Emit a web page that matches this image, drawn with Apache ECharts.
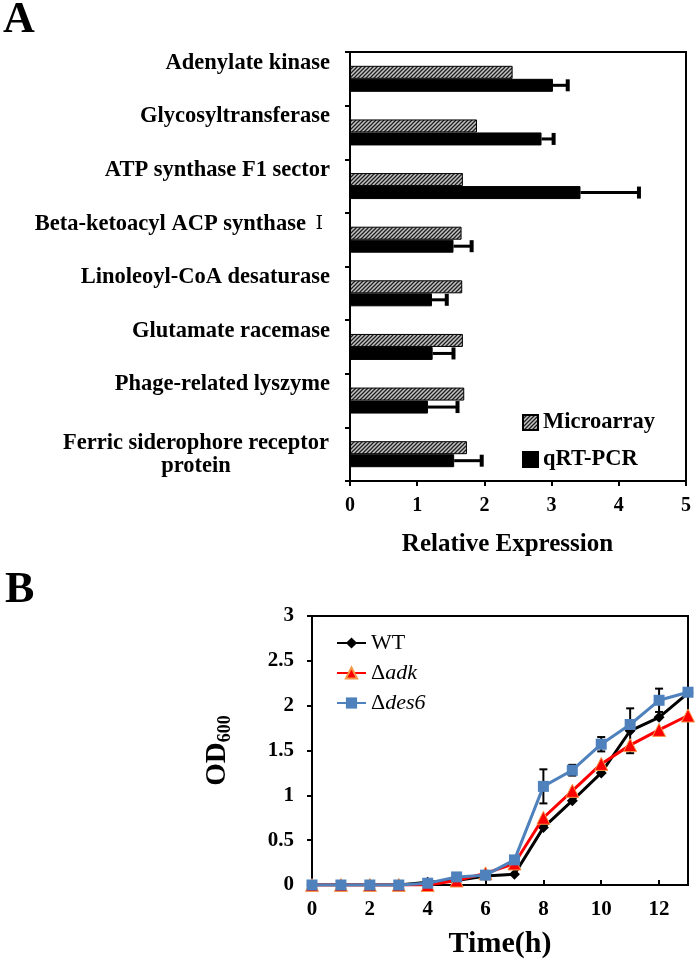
<!DOCTYPE html>
<html>
<head>
<meta charset="utf-8">
<script src="https://cdn.jsdelivr.net/npm/echarts@6/dist/echarts.min.js"></script>
<style>html,body{margin:0;padding:0;background:#fff;}#main{width:700px;height:965px;}</style>
</head>
<body>
<div id="main"></div>
<script>
// ---------- Panel A data ----------
const categories = [
  'Adenylate kinase',
  'Glycosyltransferase',
  'ATP synthase F1 sector',
  'Beta-ketoacyl ACP synthase Ⅰ',
  'Linoleoyl-CoA desaturase',
  'Glutamate racemase',
  'Phage-related lyszyme',
  'Ferric siderophore receptor\nprotein'
];
const microarray = [2.42, 1.89, 1.68, 1.66, 1.67, 1.68, 1.70, 1.74];
const qrtpcr     = [3.02, 2.85, 3.43, 1.54, 1.22, 1.23, 1.16, 1.55];
const qrtpcrErr  = [0.22, 0.18, 0.87, 0.27, 0.22, 0.31, 0.44, 0.41];
const xTicksA = [0, 1, 2, 3, 4, 5];

// ---------- Panel B data ----------
const hours  = [0, 1, 2, 3, 4, 5, 6, 7, 8, 9, 10, 11, 12, 13];
const wt     = [0, 0, 0, 0, 0.03, 0.05, 0.10, 0.12, 0.64, 0.94, 1.25, 1.72, 1.87, 2.14];
const adk    = [0, 0, 0, 0, 0.00, 0.05, 0.13, 0.24, 0.75, 1.05, 1.35, 1.56, 1.73, 1.89];
const des6   = [0, 0, 0, 0, 0.02, 0.09, 0.11, 0.28, 1.10, 1.28, 1.57, 1.79, 2.06, 2.15];
const wtErr  = [0, 0, 0, 0, 0, 0, 0, 0, 0, 0, 0, 0.25, 0, 0];
const adkErr = [0, 0, 0, 0, 0, 0, 0, 0, 0, 0, 0, 0, 0, 0];
const des6Err= [0, 0, 0, 0, 0, 0, 0, 0, 0.19, 0.06, 0.08, 0, 0.13, 0];

const FONT = '"Liberation Serif", "Times New Roman", serif';

function hatch() {
  const c = document.createElement('canvas');
  c.width = 4; c.height = 4;
  const g = c.getContext('2d');
  g.fillStyle = '#c4c4c4'; g.fillRect(0, 0, 4, 4);
  g.strokeStyle = '#1e1e1e'; g.lineWidth = 1.3;
  g.beginPath();
  g.moveTo(0, 4); g.lineTo(4, 0);
  g.moveTo(-1, 1); g.lineTo(1, -1);
  g.moveTo(3, 5); g.lineTo(5, 3);
  g.stroke();
  return c;
}
const hatchColor = { image: hatch(), repeat: 'repeat' };

const BAR_W = 13;

const chart = echarts.init(document.getElementById('main'), null, { renderer: 'canvas' });

const errA = qrtpcr.map((v, i) => [v, i, qrtpcrErr[i]]);
function errPts(vals, errs) {
  const out = [];
  vals.forEach((v, i) => { if (errs[i] > 0) out.push([hours[i], v, errs[i]]); });
  return out;
}
const errB = errPts(wt, wtErr).concat(errPts(adk, adkErr), errPts(des6, des6Err));

function catLabel(v) {
  if (v.indexOf('\n') >= 0) return v.split('\n').map(s => '{c|' + s + '}').join('\n');
  const k = v.indexOf('Ⅰ');
  if (k >= 0) return '{s|' + v.slice(0, k) + '}{r|Ⅰ}';
  return '{s|' + v + '}';
}

const option = {
  backgroundColor: '#fff',
  animation: false,
  graphic: [
    { type: 'text', left: 3, top: -1, style: { text: 'A', font: 'bold 44px ' + FONT, fill: '#000' } },
    { type: 'text', left: 5, top: 569, style: { text: 'B', font: 'bold 44px ' + FONT, fill: '#000' } }
  ],
  grid: [
    { left: 350, top: 52, width: 336, height: 429, show: true, borderColor: '#000', borderWidth: 2, backgroundColor: 'transparent' },
    { left: 312, top: 616, width: 376, height: 269, show: true, borderColor: '#000', borderWidth: 2, backgroundColor: 'transparent' }
  ],
  legend: [
    {
      data: ['Microarray', 'qRT-PCR'],
      orient: 'vertical', left: 517, top: 406,
      itemWidth: 15, itemHeight: 15, itemGap: 14,
      icon: 'rect',
      textStyle: { fontFamily: FONT, fontWeight: 'bold', fontSize: 22.5, color: '#000' }
    },
    {
      data: ['WT', 'Δadk', 'Δdes6'],
      orient: 'vertical', left: 331, top: 627,
      itemWidth: 29, itemHeight: 14, itemGap: 8,
      formatter: n => n.charAt(0) === 'Δ' ? 'Δ{i|' + n.slice(1) + '}' : n,
      textStyle: {
        fontFamily: FONT, fontSize: 22, color: '#000',
        rich: { i: { fontFamily: FONT, fontSize: 22, fontStyle: 'italic', color: '#000' } }
      }
    }
  ],
  xAxis: [
    {
      gridIndex: 0, type: 'value', min: xTicksA[0], max: xTicksA[xTicksA.length - 1], interval: 1,
      axisLine: { show: true, lineStyle: { color: '#000', width: 2 } },
      axisTick: { show: true, length: 5, lineStyle: { color: '#000', width: 2 } },
      splitLine: { show: false },
      axisLabel: { margin: 15, fontFamily: FONT, fontWeight: 'bold', fontSize: 20, color: '#000' },
      name: 'Relative Expression', nameLocation: 'middle', nameGap: 51,
      nameTextStyle: { fontFamily: FONT, fontWeight: 'bold', fontSize: 25, color: '#000', padding: [0, 21, 0, 0] }
    },
    {
      gridIndex: 1, type: 'value', min: 0, max: 13, interval: 2,
      axisLine: { show: true, lineStyle: { color: '#000', width: 2 } },
      axisTick: { show: true, inside: true, length: 5, lineStyle: { color: '#000', width: 2 } },
      splitLine: { show: false },
      axisLabel: { margin: 14, showMaxLabel: false, fontFamily: FONT, fontWeight: 'bold', fontSize: 21, color: '#000' },
      name: 'Time(h)', nameLocation: 'middle', nameGap: 44,
      nameTextStyle: { fontFamily: FONT, fontWeight: 'bold', fontSize: 30, color: '#000' }
    }
  ],
  yAxis: [
    {
      gridIndex: 0, type: 'category', data: categories, inverse: true,
      axisLine: { show: true, lineStyle: { color: '#000', width: 2 } },
      axisTick: { show: true, length: 5, lineStyle: { color: '#000', width: 2 } },
      splitLine: { show: false },
      axisLabel: {
        margin: 20, color: '#000',
        formatter: catLabel,
        rich: {
          s: { fontFamily: FONT, fontWeight: 'bold', fontSize: 22.5, color: '#000', padding: [0, 0, 32, 0] },
          r: { fontFamily: '"DejaVu Serif", ' + FONT, fontWeight: 'normal', fontSize: 19, color: '#000', padding: [0, 7, 32, 4] },
          c: { fontFamily: FONT, fontWeight: 'bold', fontSize: 22.5, color: '#000', width: 268, align: 'center', lineHeight: 23 }
        }
      }
    },
    {
      gridIndex: 1, type: 'value', min: 0, max: 3, interval: 0.5,
      axisLine: { show: true, lineStyle: { color: '#000', width: 2 } },
      axisTick: { show: true, length: 5, lineStyle: { color: '#000', width: 2 } },
      splitLine: { show: false },
      axisLabel: { margin: 18, fontFamily: FONT, fontWeight: 'bold', fontSize: 21, color: '#000' },
      name: 'OD{sub|600}', nameLocation: 'middle', nameGap: 78, nameRotate: 90,
      nameTextStyle: {
        fontFamily: FONT, fontWeight: 'bold', fontSize: 29, color: '#000',
        rich: { sub: { fontFamily: FONT, fontWeight: 'bold', fontSize: 18, color: '#000', verticalAlign: 'bottom', padding: [14, 0, 0, 0] } }
      }
    }
  ],
  series: [
    {
      name: 'Microarray', type: 'bar', xAxisIndex: 0, yAxisIndex: 0,
      data: microarray, barWidth: BAR_W, barGap: '0%',
      itemStyle: { color: hatchColor, borderColor: '#000', borderWidth: 1 }
    },
    {
      name: 'qRT-PCR', type: 'bar', xAxisIndex: 0, yAxisIndex: 0,
      data: qrtpcr, barWidth: BAR_W, barGap: '0%',
      itemStyle: { color: '#000', borderColor: '#000', borderWidth: 1 }
    },
    {
      name: 'errA', type: 'custom', xAxisIndex: 0, yAxisIndex: 0,
      data: errA, encode: { x: 0, y: 1 }, z: 5,
      renderItem: (params, api) => {
        const v = api.value(0), idx = api.value(1), e = api.value(2);
        const s = api.coord([v, idx]);
        const t = api.coord([v + e, idx]);
        const y = s[1] + BAR_W / 2;
        return {
          type: 'group', children: [
            { type: 'line', shape: { x1: s[0], y1: y, x2: t[0], y2: y }, style: { stroke: '#000', lineWidth: 3 } },
            { type: 'rect', shape: { x: t[0] - 2, y: y - 6, width: 4, height: 12 }, style: { fill: '#000' } }
          ]
        };
      }
    },
    {
      name: 'errB', type: 'custom', xAxisIndex: 1, yAxisIndex: 1,
      data: errB, encode: { x: 0, y: 1 }, z: 1,
      renderItem: (params, api) => {
        const x = api.value(0), v = api.value(1), e = api.value(2);
        const lo = api.coord([x, v - e]);
        const hi = api.coord([x, v + e]);
        const st = { stroke: '#000', lineWidth: 2 };
        return {
          type: 'group', children: [
            { type: 'line', shape: { x1: lo[0], y1: lo[1], x2: hi[0], y2: hi[1] }, style: st },
            { type: 'line', shape: { x1: lo[0] - 4, y1: lo[1], x2: lo[0] + 4, y2: lo[1] }, style: st },
            { type: 'line', shape: { x1: hi[0] - 4, y1: hi[1], x2: hi[0] + 4, y2: hi[1] }, style: st }
          ]
        };
      }
    },
    {
      name: 'WT', type: 'line', xAxisIndex: 1, yAxisIndex: 1, z: 2,
      data: hours.map((h, i) => [h, wt[i]]),
      symbol: 'diamond', symbolSize: 11, showAllSymbol: true,
      lineStyle: { color: '#000', width: 3 },
      itemStyle: { color: '#000', borderColor: '#000', borderWidth: 0 }
    },
    {
      name: 'Δadk', type: 'line', xAxisIndex: 1, yAxisIndex: 1, z: 3,
      data: hours.map((h, i) => [h, adk[i]]),
      symbol: 'triangle', symbolSize: 13, showAllSymbol: true,
      lineStyle: { color: '#ff0000', width: 3 },
      itemStyle: { color: '#ff0000', borderColor: '#f79646', borderWidth: 1 }
    },
    {
      name: 'Δdes6', type: 'line', xAxisIndex: 1, yAxisIndex: 1, z: 4,
      data: hours.map((h, i) => [h, des6[i]]),
      symbol: 'rect', symbolSize: 11, showAllSymbol: true,
      lineStyle: { color: '#4f81bd', width: 3 },
      itemStyle: { color: '#4f81bd', borderColor: '#4f81bd', borderWidth: 0 }
    }
  ]
};
chart.setOption(option);
</script>
</body>
</html>
